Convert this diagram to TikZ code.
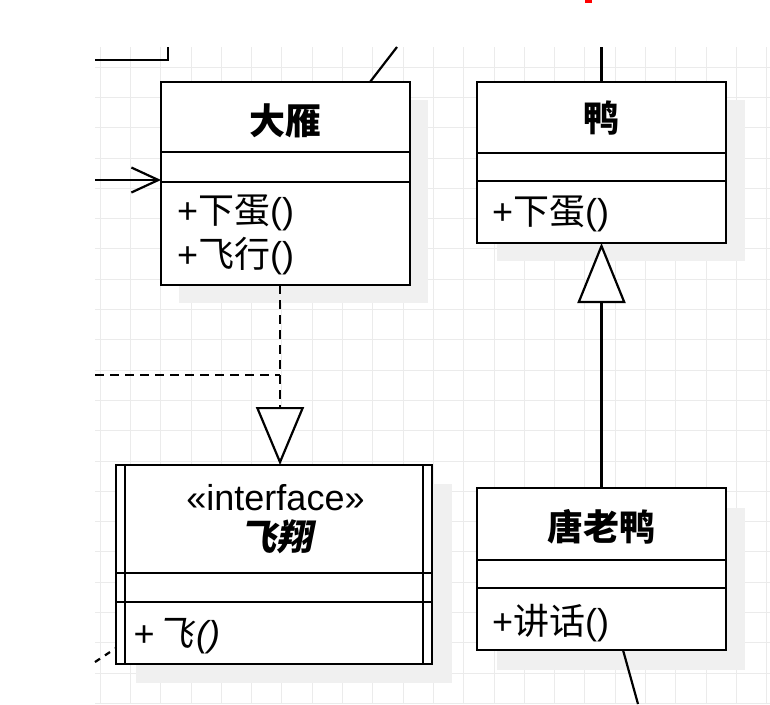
\documentclass[tikz,border=0pt]{standalone}
\usepackage{fontspec}
\setmainfont{Liberation Sans}
\newfontfamily\cjk{Noto Sans CJK SC}
\newfontfamily\cjksl{Noto Sans CJK SC}[FakeSlant=0.2]
\usetikzlibrary{arrows.meta}

\begin{document}
\begin{tikzpicture}[x=1pt,y=-1pt,
  gridline/.style={draw=black!8,line width=0.8pt},
  shade/.style={fill=black!6},
  cls/.style={draw,line width=2.2pt,fill=white,inner sep=0pt,outer sep=0pt,minimum width=249pt,anchor=north west},
  txt/.style={inner sep=0pt,font=\fontsize{36}{40}\selectfont},
  line/.style={line width=2.2pt},
  dashline/.style={line width=2.2pt,dash pattern=on 9pt off 6pt},
  assoc/.style={line,-{Straight Barb[length=27pt,width=25pt]}},
  realize/.style={dashline,-{Triangle[open,fill=white,length=58pt,width=48pt]}},
  inherit/.style={line,-{Triangle[open,fill=white,length=60pt,width=48pt]}}]
\useasboundingbox (0,0) rectangle (770,704);
\fill[white] (0,0) rectangle (770,704);
% grid of the canvas
\foreach \i in {0,...,22}
  \draw[gridline] ({100+30.3*\i},47) -- ({100+30.3*\i},704);
\foreach \j in {0,...,21}
  \draw[gridline] (95,{67+30.3*\j}) -- (770,{67+30.3*\j});
\fill[red] (585,0) rectangle (592,3);
% shadows
\fill[shade] (179,100) rectangle (428,303);
\fill[shade] (497,100) rectangle (745,261);
\fill[shade] (497,508) rectangle (745,670);
\fill[shade] (136,484) rectangle (452,683);
% boxes
\node[cls,minimum height=203pt] (dayan) at (161,82) {};
\node[cls,minimum height=161pt] (ya) at (477,82) {};
\node[cls,minimum height=162pt] (tly) at (477,488) {};
\node[cls,minimum width=316pt,minimum height=199pt] (iface) at (116,465) {};
\draw[line] (161,152) -- (410,152);
\draw[line] (161,182) -- (410,182);
\draw[line] (477,153) -- (726,153);
\draw[line] (477,181) -- (726,181);
\draw[line] (477,560) -- (726,560);
\draw[line] (477,588) -- (726,588);
\draw[line] (116,573) -- (432,573);
\draw[line] (116,602) -- (432,602);
\draw[line] (125,465) -- (125,664);
\draw[line] (423,465) -- (423,664);
% texts
\node[txt] (dayanT) at (285.5,121) {\cjk\bfseries 大雁};
\node[txt,anchor=west] (dayanM1) at (177,213) {+{\cjk 下蛋}()};
\node[txt,anchor=west] (dayanM2) at (177,256) {+{\cjk 飞行}()};
\node[txt] (yaT) at (601.5,118) {\cjk\bfseries 鸭};
\node[txt,anchor=west] (yaM1) at (492,214) {+{\cjk 下蛋}()};
\node[txt] (tlyT) at (601.5,527) {\cjk\bfseries 唐老鸭};
\node[txt,anchor=west] (tlyM1) at (492,623) {+{\cjk 讲话}()};
\node[txt] (ifaceS) at (275.5,498) {«interface»};
\node[txt] (ifaceT) at (276,537) {\cjksl\bfseries 飞翔};
\node[txt,anchor=west] (ifaceM1) at (133,636) {{\itshape +}\hspace{3pt}{\cjksl 飞}\hspace{3pt}{\itshape ()}};
% connectors
\coordinate (upA) at (397,47);
\coordinate (upY) at (601.5,47);
\coordinate (downT) at (638,704);
\coordinate (inA) at (95,180);
\coordinate (inD) at (95,375);
\coordinate (inL) at (95,662);
\coordinate (tipI) at (280,465);
\draw[line] (95,60) -- (168,60) -- (168,47);
\draw[line] (upA) -- (dayan.north -| 370,0);
\draw[line] (upY) -- (ya.north);
\draw[line] (tly.south -| 623,0) -- (downT);
\draw[assoc] (inA) -- (inA -| dayan.west);
\draw[dashline] (inD) -- (inD -| tipI);
\draw[realize] (dayan.south -| tipI) -- (tipI);
\draw[dashline,dash pattern=on 6pt off 6pt] (inL) -- (iface.west |- 0,648);
\draw[inherit] (tly.north) -- (ya.south);
\end{tikzpicture}
\end{document}
